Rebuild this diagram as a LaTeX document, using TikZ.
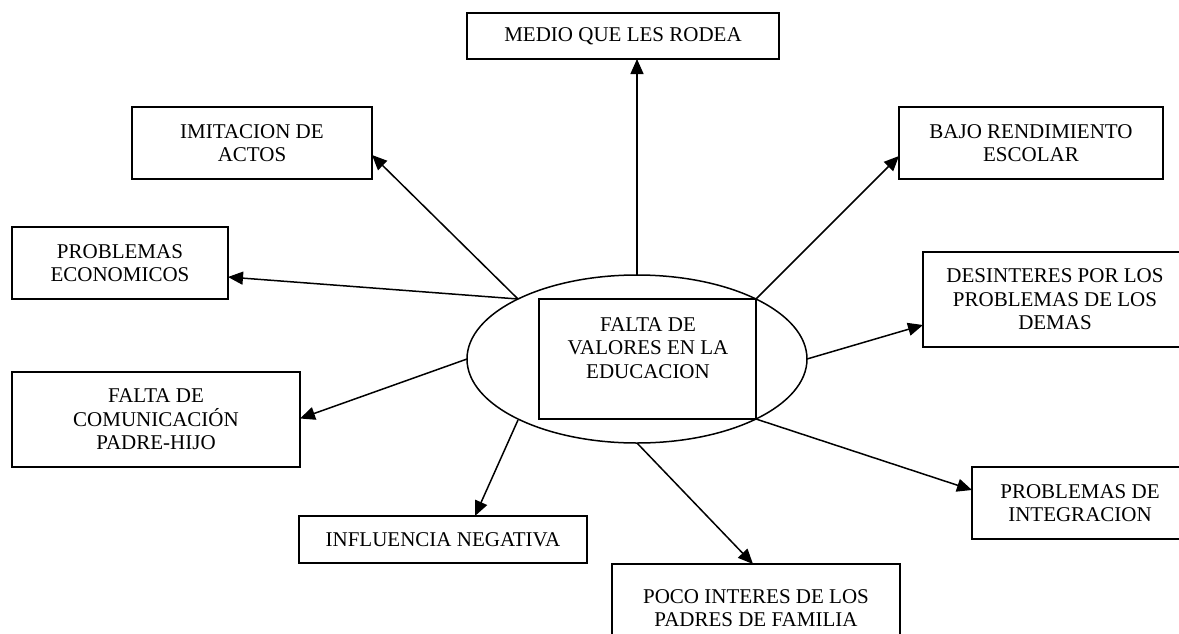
\documentclass[tikz,border=0pt]{standalone}
\usepackage{fontspec}
\setmainfont{Liberation Serif}
\usetikzlibrary{arrows.meta,shapes.geometric,calc}
\begin{document}
\begin{tikzpicture}[x=1pt,y=-1pt,
  every node/.style={inner sep=0pt,outer sep=0pt,font=\fontsize{21}{23.5}\selectfont},
  box/.style={draw,line width=1.5pt,align=center,fill=white},
  conn/.style={line width=1.5pt,-{Triangle[length=15pt,width=13pt]}}]
\useasboundingbox (0,0) rectangle (1179,633);
\clip (0,0) rectangle (1179,633);
\fill[white] (0,0) rectangle (1179,633);
% central shapes
\node[draw,ellipse,line width=1.5pt,minimum width=340,minimum height=168] (ell) at (637,359) {};
\node[draw,line width=1.5pt,minimum width=217,minimum height=120] (ctr) at (647.5,359) {};
\node[align=center] (ctrtext) at (648,348) {FALTA DE\\VALORES EN LA\\EDUCACION};
\coordinate (ulft) at ($(ell.center)+(-119,-60)$);
\coordinate (llft) at ($(ell.center)+(-119,61)$);
% boxes
\node[box,minimum width=312,minimum height=46] (medio) at (623,36) {MEDIO QUE LES RODEA};
\node[box,minimum width=240,minimum height=72] (imit) at (252,143) {IMITACION DE\\ACTOS};
\node[box,minimum width=216,minimum height=72] (econ) at (120,263) {PROBLEMAS\\ECONOMICOS};
\node[box,minimum width=288,minimum height=95] (comun) at (156,419.5) {FALTA DE\\COMUNICACIÓN\\PADRE-HIJO};
\node[box,minimum width=288,minimum height=47] (influ) at (443,539.5) {INFLUENCIA NEGATIVA};
\node[box,minimum width=288,minimum height=88] (poco) at (756,608) {POCO INTERES DE LOS\\PADRES DE FAMILIA};
\node[box,minimum width=216,minimum height=72] (integ) at (1080,503) {PROBLEMAS DE\\INTEGRACION};
\node[box,minimum width=264,minimum height=95] (desint) at (1055,299.5) {DESINTERES POR LOS\\PROBLEMAS DE LOS\\DEMAS};
\node[box,minimum width=264,minimum height=72] (bajo) at (1031,143) {BAJO RENDIMIENTO\\ESCOLAR};
% connectors
\draw[conn] (ell.north) -- ($(medio.south)+(14,0)$);
\draw[conn] (ulft) -- ($(imit.east)+(0,12)$);
\draw[conn] (ulft) -- ($(econ.east)+(0,14)$);
\draw[conn] (ell.west) -- ($(comun.east)+(0,-1)$);
\draw[conn] (llft) -- ($(influ.north)+(32,0)$);
\draw[conn] (ell.south) -- ($(poco.north)+(-3,0)$);
\draw[conn] (ctr.south east) -- ($(integ.west)+(0,-13)$);
\draw[conn] (ell.east) -- ($(desint.west)+(0,25.5)$);
\draw[conn] (ctr.north east) -- ($(bajo.west)+(0,13)$);
\end{tikzpicture}
\end{document}
